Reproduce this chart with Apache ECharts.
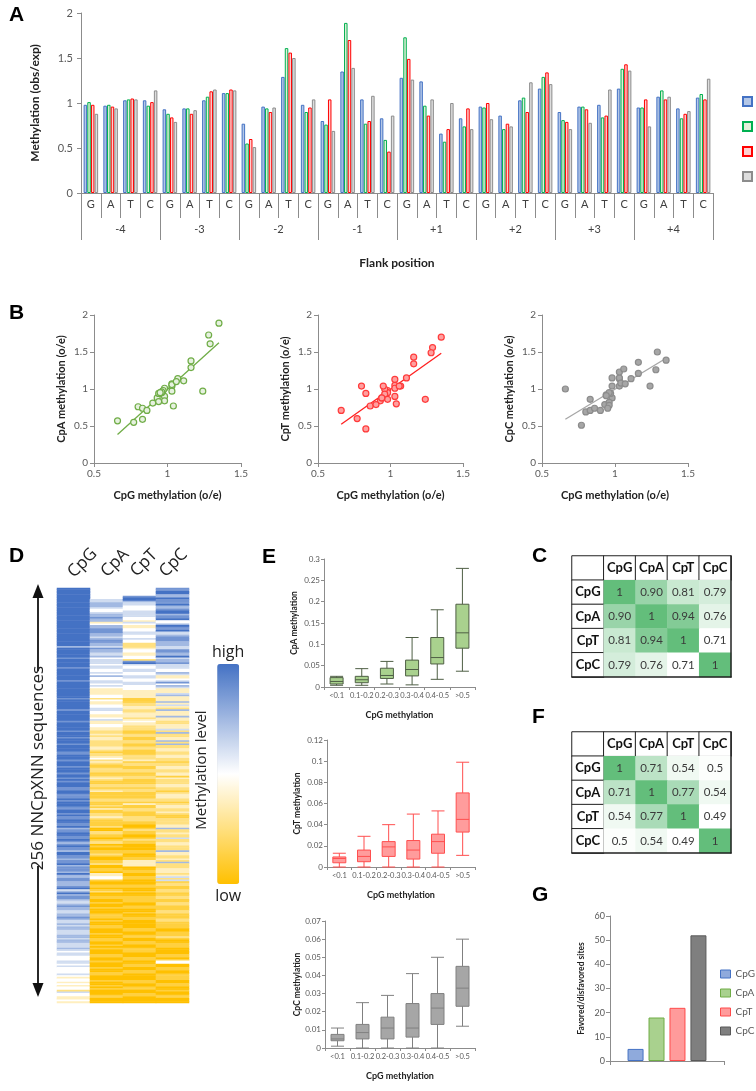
<!DOCTYPE html>
<html><head><meta charset="utf-8">
<script src="https://cdn.jsdelivr.net/npm/echarts@6/dist/echarts.min.js"></script>
<style>html,body{margin:0;padding:0;background:#fff}#c{width:756px;height:1091px}</style>
</head><body><div id="c"></div>
<script>
// ---------- DATA ----------
const flankGroups = ['-4','-3','-2','-1','+1','+2','+3','+4'];
const bases = ['G','A','T','C'];
const cpgObsExp = [0.98,0.97,1.03,1.03, 0.93,0.94,1.03,1.11, 0.77,0.96,1.29,0.98, 0.80,1.35,1.04,0.83, 1.28,1.24,0.66,0.83, 0.96,0.86,1.03,1.16, 0.90,0.96,0.98,1.16, 0.95,1.07,0.94,1.06];
const cpaObsExp = [1.01,0.98,1.04,0.97, 0.88,0.94,1.07,1.11, 0.55,0.94,1.61,0.90, 0.76,1.89,0.77,0.59, 1.73,0.97,0.57,0.74, 0.95,0.71,1.06,1.29, 0.81,0.96,0.84,1.38, 0.95,1.14,0.83,1.10];
const cptObsExp = [0.98,0.96,1.05,1.01, 0.84,0.88,1.13,1.15, 0.60,0.90,1.56,0.95, 1.04,1.70,0.80,0.46, 1.49,0.86,0.71,0.94, 1.00,0.77,0.90,1.34, 0.79,0.93,0.86,1.43, 1.04,1.04,0.88,1.04];
const cpcObsExp = [0.88,0.94,1.04,1.14, 0.79,0.92,1.15,1.14, 0.51,0.95,1.50,1.04, 0.69,1.39,1.08,0.86, 1.26,1.04,1.00,0.71, 0.82,0.74,1.23,1.21, 0.71,0.78,1.15,1.36, 0.74,1.07,0.91,1.27];

const dinucs = ['CpG','CpA','CpT','CpC'];
// heatmap levels per row (0 = low/orange, 4 = white, 8 = high/blue, x = empty)
const heatCpG = ["8888888888888888","8888888888888888","8888688888878888","8788888887888888","8888788888878888","8878888878887888","7888877888788878","8878878788877887","7787888778878778","8778677887787678","7768877677867776","8667766678568677","6556766556676556","5665556656655565","4554445545444454","3443434425443343"].join('');
const heatCpA = ["xxxxxxx556665445","6676634667776656","7766576655645554","5544546445545433","3344243344554433","4533443322323322","2233212234232112","2211232112212311","1122112131122321","1112002211012201","0011210011200110","3344100110120011","0010010001110100","1100010011001010","0011001000100110","0010010100011000"].join('');
const heatCpT = ["xxxxx78865544455","5544354334455445","4422234433442785","4455445544554443","3333111223322333","2343322211221122","1122111222312211","2211221112212211","1122131122111222","1100121100121100","0011001133330011","0011000110010011","1100110010011000","0011001100110011","1000110011001100","0011001100110000"].join('');
const heatCpC = ["7788668777866788","6778446877855677","7666557766856675","5544653345746533","3563336353263336","3322333526223362","6223322332212233","2233132223322123","3322123322321122","2233622322522332","2263322326222333","2352512211221122","1122111221112211","1100111210011100","0011014400110011","1100110010011000"].join('');

const cpgBins = ['<0.1','0.1-0.2','0.2-0.3','0.3-0.4','0.4-0.5','>0.5'];
const boxCpA = [[0.004,0.007,0.013,0.022,0.025],[0.004,0.010,0.017,0.025,0.043],[0.007,0.020,0.027,0.044,0.060],[0.005,0.026,0.041,0.063,0.116],[0.018,0.054,0.069,0.116,0.181],[0.037,0.091,0.127,0.194,0.278]];
const boxCpT = [[0,0.004,0.008,0.0095,0.013],[0,0.005,0.010,0.016,0.029],[0,0.010,0.019,0.024,0.040],[0,0.0075,0.016,0.025,0.050],[0,0.013,0.024,0.031,0.053],[0.011,0.033,0.045,0.070,0.099]];
const boxCpC = [[0.001,0.004,0.005,0.0075,0.011],[0,0.005,0.0085,0.013,0.025],[0,0.005,0.011,0.017,0.029],[0,0.006,0.011,0.0245,0.041],[0,0.013,0.022,0.030,0.050],[0.012,0.023,0.033,0.045,0.060]];

const corrC = [[1,0.90,0.81,0.79],[0.90,1,0.94,0.76],[0.81,0.94,1,0.71],[0.79,0.76,0.71,1]];
const corrF = [[1,0.71,0.54,0.5],[0.71,1,0.77,0.54],[0.54,0.77,1,0.49],[0.5,0.54,0.49,1]];

const favoredRatio = [5, 18, 22, 52];

// ---------- BUILD ----------
const FONT = 'Lato, "Open Sans", sans-serif';
const TXT = '#595959';
const AXL = '#8C8C8C';

const letterCats = [];
flankGroups.forEach(g => bases.forEach(b => letterCats.push(b)));

function valueAxis(gi, min, max, interval, o) {
  return Object.assign({
    type:'value', gridIndex: gi, min, max, interval,
    splitLine:{show:false},
    axisLine:{show:true, onZero:false, lineStyle:{color:AXL, width:1}},
    axisTick:{show:true, length:4, lineStyle:{color:AXL}},
    axisLabel:{color:TXT, fontFamily:FONT, fontSize:10, margin:6}
  }, o || {});
}
function nameStyle(size){ return {fontFamily:FONT, fontWeight:'bold', fontSize:size, color:'#222'}; }

const grids = [
  {left:81, top:13, width:632, height:180},   // 0 A
  {left:94, top:315, width:147, height:148},  // 1 B1
  {left:318, top:315, width:145, height:148}, // 2 B2
  {left:542, top:315, width:146, height:148}, // 3 B3
  {left:57, top:588, width:132, height:415},  // 4 D
  {left:324, top:559, width:151, height:128}, // 5 E1
  {left:327, top:740, width:148, height:127}, // 6 E2
  {left:325, top:921, width:150, height:127}, // 7 E3
  {left:572, top:556, width:159, height:121}, // 8 C
  {left:572, top:732, width:159, height:121}, // 9 F
  {left:610, top:916, width:114, height:145}  // 10 G
];

const xAxes = [];
const yAxes = [];
// A  (x 0,1 / y 0)
xAxes.push({type:'category', gridIndex:0, data:letterCats, boundaryGap:true,
  axisLine:{show:true, lineStyle:{color:AXL}},
  axisTick:{show:true, interval:0, length:25, lineStyle:{color:AXL}},
  axisLabel:{interval:0, color:'#404040', fontFamily:FONT, fontSize:11, margin:6}});
xAxes.push({type:'category', gridIndex:0, data:flankGroups, position:'bottom', boundaryGap:true,
  axisLine:{show:false},
  axisTick:{show:true, interval:0, length:47, lineStyle:{color:AXL}},
  axisLabel:{interval:0, color:'#404040', fontFamily:FONT, fontSize:11, margin:31},
  name:'Flank position', nameLocation:'middle', nameGap:64, nameTextStyle:nameStyle(12)});
yAxes.push(valueAxis(0, 0, 2, 0.5, {name:'Methylation (obs/exp)', nameLocation:'middle', nameGap:40,
  nameTextStyle:nameStyle(12), axisLabel:{color:TXT, fontFamily:FONT, fontSize:11, margin:8}}));
// B  (x 2,3,4 / y 1,2,3)
const bTitles = ['CpA methylation (o/e)','CpT methylation (o/e)','CpC methylation (o/e)'];
for (let i=0;i<3;i++){
  xAxes.push(valueAxis(1+i, 0.5, 1.5, 0.5, {name:'CpG methylation (o/e)', nameLocation:'middle', nameGap:27, nameTextStyle:nameStyle(11)}));
  yAxes.push(valueAxis(1+i, 0, 2, 0.5, {name:bTitles[i], nameLocation:'middle', nameGap:27, nameTextStyle:nameStyle(11)}));
}
// D  (x 5 / y 4) — column labels drawn as rotated texts below
xAxes.push({type:'category', gridIndex:4, position:'top', data:dinucs,
  axisLine:{show:false}, axisTick:{show:false}, axisLabel:{show:false}});
const rowIdx = []; for (let r=0;r<256;r++) rowIdx.push(String(r));
yAxes.push({type:'category', gridIndex:4, data:rowIdx, inverse:true, show:false});
// E  (x 6,7,8 / y 5,6,7)
const eTitles = ['CpA methylation','CpT methylation','CpC methylation'];
const eMax = [0.3, 0.12, 0.07], eInt = [0.05, 0.02, 0.01], eGap = [25, 25, 23];
for (let i=0;i<3;i++){
  xAxes.push({type:'category', gridIndex:5+i, data:cpgBins, boundaryGap:true,
    axisLine:{show:true, lineStyle:{color:AXL}},
    axisTick:{show:true, interval:0, length:3, lineStyle:{color:AXL}},
    axisLabel:{interval:0, color:TXT, fontFamily:FONT, fontSize:7.5, margin:5},
    name:'CpG methylation', nameLocation:'middle', nameGap:24, nameTextStyle:nameStyle(9)});
  yAxes.push(valueAxis(5+i, 0, eMax[i], eInt[i], {name:eTitles[i], nameLocation:'middle', nameGap:eGap[i],
    nameTextStyle:nameStyle(8.5), axisTick:{show:true,length:3,lineStyle:{color:AXL}},
    axisLabel:{color:TXT, fontFamily:FONT, fontSize:8, margin:4}}));
}
// C, F tables  (x 9,10 / y 8,9)
const tblCats = [''].concat(dinucs);
for (let i=0;i<2;i++){
  xAxes.push({type:'category', gridIndex:8+i, data:tblCats, position:'bottom', z:10,
    axisLine:{show:true, lineStyle:{color:'#222', width:1.5}}, axisTick:{show:false}, axisLabel:{show:false}});
  yAxes.push({type:'category', gridIndex:8+i, data:tblCats, inverse:true, position:'right', z:10,
    axisLine:{show:true, lineStyle:{color:'#222', width:1.5}}, axisTick:{show:false}, axisLabel:{show:false}});
}
// G  (x 11 / y 10)
xAxes.push({type:'category', gridIndex:10, data:[''], boundaryGap:true,
  axisLine:{show:true, lineStyle:{color:AXL}}, axisTick:{show:true, length:4, lineStyle:{color:AXL}},
  axisLabel:{show:false}});
yAxes.push(valueAxis(10, 0, 60, 10, {name:'Favored/disfavored sites', nameLocation:'middle', nameGap:24,
  nameTextStyle:nameStyle(8.5), axisLabel:{color:TXT, fontFamily:FONT, fontSize:9, margin:5}}));

const series = [];
// A bars
const aDefs = [
  ['A-CpG', cpgObsExp, '#B4C7E7', '#4472C4'],
  ['A-CpA', cpaObsExp, '#E2F0D9', '#00B050'],
  ['A-CpT', cptObsExp, '#FFD0D0', '#FF0000'],
  ['A-CpC', cpcObsExp, '#DDDDDD', '#8C8C8C']
];
aDefs.forEach(d => series.push({type:'bar', name:d[0], xAxisIndex:0, yAxisIndex:0, data:d[1],
  barWidth:3.5, barGap:'5%', itemStyle:{color:d[2], borderColor:d[3], borderWidth:1}}));
// B scatter + fit
const bDefs = [
  [cpaObsExp, '#E6F1DF', '#70AD47', '#70AD47'],
  [cptObsExp, '#FF9F9F', '#FF3B3B', '#FF2020'],
  [cpcObsExp, '#A6A6A6', '#8C8C8C', '#A6A6A6']
];
bDefs.forEach((d, i) => {
  const pts = cpgObsExp.map((x, k) => [x, d[0][k]]);
  const n = pts.length;
  let sx=0, sy=0, sxx=0, sxy=0;
  pts.forEach(p => { sx+=p[0]; sy+=p[1]; sxx+=p[0]*p[0]; sxy+=p[0]*p[1]; });
  const b = (n*sxy - sx*sy) / (n*sxx - sx*sx), a = (sy - b*sx)/n;
  const xmin = Math.min(...cpgObsExp), xmax = Math.max(...cpgObsExp);
  series.push({type:'line', xAxisIndex:2+i, yAxisIndex:1+i, data:[[xmin, a+b*xmin],[xmax, a+b*xmax]],
    showSymbol:false, lineStyle:{color:d[3], width:1.3}, z:1});
  series.push({type:'scatter', xAxisIndex:2+i, yAxisIndex:1+i, data:pts, symbolSize:6,
    itemStyle:{color:d[1], borderColor:d[2], borderWidth:1.2, opacity:1}, z:2});
});
// D heatmap
const heatCols = [heatCpG, heatCpA, heatCpT, heatCpC];
const heatData = [];
heatCols.forEach((s, c) => { for (let r=0;r<256;r++){ const ch = s.charAt(r); if (ch && ch !== 'x') heatData.push([c, r, +ch]); } });
const heatIdx = series.length;
series.push({type:'heatmap', xAxisIndex:5, yAxisIndex:4, data:heatData, progressive:0, itemStyle:{borderWidth:0}});
// E boxplots
const eDefs = [[boxCpA, '#A9D18E', '#4F5F45'], [boxCpT, '#FF9C9C', '#FF4F4F'], [boxCpC, '#A6A6A6', '#808080']];
eDefs.forEach((d, i) => series.push({type:'boxplot', name:'E'+i, xAxisIndex:6+i, yAxisIndex:5+i, data:d[0],
  boxWidth:[13,13], itemStyle:{color:d[1], borderColor:d[2], borderWidth:1}}));
// C, F tables
const tblIdx = [];
[[corrC, v => v===1 ? '1' : v.toFixed(2)], [corrF, v => String(v)]].forEach((t, i) => {
  const hdr = [{value:[0,0,0], name:''}];
  dinucs.forEach((nm, k) => { hdr.push({value:[k+1,0,0], name:nm}); hdr.push({value:[0,k+1,0], name:nm}); });
  series.push({type:'heatmap', xAxisIndex:9+i, yAxisIndex:8+i, data:hdr,
    itemStyle:{color:'#fff', borderColor:'#222', borderWidth:1},
    label:{show:true, formatter:p => p.data.name, fontFamily:FONT, fontWeight:'bold', fontSize:13, color:'#111'}});
  const vals = [];
  t[0].forEach((row, r) => row.forEach((v, c) => vals.push([c+1, r+1, v])));
  tblIdx.push(series.length);
  series.push({type:'heatmap', xAxisIndex:9+i, yAxisIndex:8+i, data:vals, itemStyle:{borderWidth:0},
    label:{show:true, formatter:p => t[1](p.data[2]), fontFamily:FONT, fontSize:11.5, color:'#3A3A3A'}});
});
// G bars
const gDefs = [['CpG','#8FAADC','#4472C4'],['CpA','#A9D18E','#70AD47'],['CpT','#FF9B9B','#FF4B4B'],['CpC','#7F7F7F','#595959']];
gDefs.forEach((d, i) => series.push({type:'bar', name:d[0], xAxisIndex:11, yAxisIndex:10, data:[favoredRatio[i]],
  barWidth:16, barGap:'31%', itemStyle:{color:d[1], borderColor:d[2], borderWidth:1}}));

const letter = (t, x, y) => ({type:'text', x, y, style:{text:t, fontFamily:'"Liberation Sans", Arial, sans-serif', fontWeight:'bold', fontSize:21, fill:'#000', verticalAlign:'middle'}});
// rotated column headings for D (centre positions of each heading)
const dLabelCentres = [[82.5,563],[115,563],[144,563],[173.5,563]];
const dLabels = dinucs.map((t, k) => ({type:'text', x:dLabelCentres[k][0], y:dLabelCentres[k][1], rotation:Math.PI/4,
  style:{text:t, fontFamily:'"Open Sans", sans-serif', fontSize:17, fill:'#222', align:'center', verticalAlign:'middle'}}));

const option = {
  animation:false,
  backgroundColor:'#fff',
  grid: grids,
  xAxis: xAxes,
  yAxis: yAxes,
  legend: [
    {data:aDefs.map(d=>d[0]), orient:'vertical', left:737, top:91, itemWidth:9, itemHeight:9, itemGap:14,
     icon:'rect', formatter:() => '', textStyle:{fontSize:1}},
    {data:gDefs.map(d=>d[0]), orient:'vertical', left:715, top:964, itemWidth:10, itemHeight:8, itemGap:9,
     icon:'rect', textStyle:{fontFamily:FONT, fontSize:10, color:TXT}, itemStyle:{borderWidth:1}}
  ],
  visualMap: [
    {type:'continuous', seriesIndex:heatIdx, dimension:2, min:0, max:8, calculable:false,
     left:197, top:629, itemWidth:22, itemHeight:220, text:['high','low'], textGap:4,
     textStyle:{fontFamily:'"Open Sans", sans-serif', fontSize:16, color:'#222'},
     inRange:{color:['#FFC000','#FFFFFF','#4472C4']}},
    {type:'continuous', seriesIndex:tblIdx[0], dimension:2, min:0.71, max:1, show:false, inRange:{color:['#FFFFFF','#63BE7B']}},
    {type:'continuous', seriesIndex:tblIdx[1], dimension:2, min:0.49, max:1, show:false, inRange:{color:['#FFFFFF','#63BE7B']}}
  ],
  series,
  graphic: [
    letter('A', 9, 15), letter('B', 9, 313), letter('D', 9, 556), letter('E', 262, 557),
    letter('C', 532, 556), letter('F', 532, 717), letter('G', 532, 895),
    ...dLabels,
    {type:'text', x:202, y:770, rotation:Math.PI/2, style:{text:'Methylation level', fontFamily:'"Open Sans", sans-serif', fontSize:15, fill:'#222', align:'center', verticalAlign:'middle'}},
    {type:'line', shape:{x1:38, y1:596, x2:38, y2:671}, style:{stroke:'#111', lineWidth:1.8}},
    {type:'polygon', shape:{points:[[38,584],[32.5,598],[43.5,598]]}, style:{fill:'#111'}},
    {type:'text', x:38, y:768, rotation:Math.PI/2, style:{text:'256 NNCpXNN sequences', fontFamily:'"Open Sans", sans-serif', fontSize:17, fill:'#222', align:'center', verticalAlign:'middle'}},
    {type:'line', shape:{x1:38, y1:866, x2:38, y2:985}, style:{stroke:'#111', lineWidth:1.8}},
    {type:'polygon', shape:{points:[[38,997],[32.5,983],[43.5,983]]}, style:{fill:'#111'}}
  ]
};
const chart = echarts.init(document.getElementById('c'));
chart.setOption(option);
</script>
</body></html>
